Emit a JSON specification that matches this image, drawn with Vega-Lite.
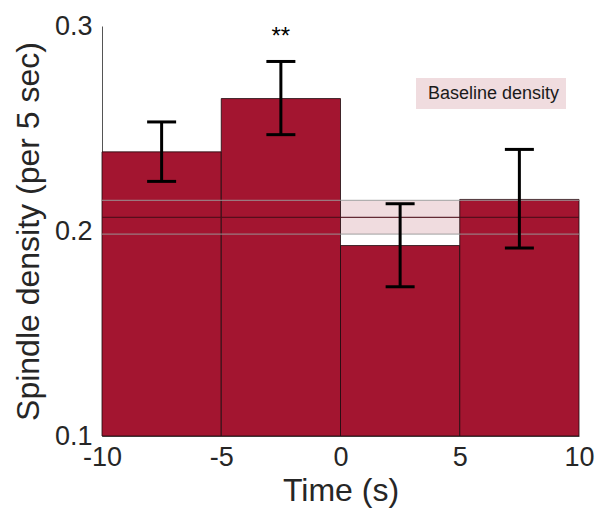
{
  "$schema": "https://vega.github.io/schema/vega-lite/v6.json",
  "width": 477,
  "height": 410,
  "autosize": "none",
  "padding": {"left": 102, "top": 26, "right": 20, "bottom": 72},
  "background": "white",
  "config": {
    "view": {"stroke": null},
    "font": "Liberation Sans",
    "axis": {"labelFont": "Liberation Sans", "titleFont": "Liberation Sans", "labelColor": "#262626", "titleColor": "#262626", "titleFontWeight": "normal", "grid": false, "ticks": false, "domainColor": "#555555", "domainWidth": 1}
  },
  "datasets": {
    "bars": [
      {"start": -10, "end": -5, "mid": -7.5, "density": 0.2386, "lo": 0.2242, "hi": 0.2532, "sig": ""},
      {"start": -5, "end": 0, "mid": -2.5, "density": 0.2646, "lo": 0.2470, "hi": 0.2827, "sig": "**"},
      {"start": 0, "end": 5, "mid": 2.5, "density": 0.1929, "lo": 0.1728, "hi": 0.2133, "sig": ""},
      {"start": 5, "end": 10, "mid": 7.5, "density": 0.2154, "lo": 0.1917, "hi": 0.2398, "sig": ""}
    ],
    "baseline": [
      {"label": "Baseline density", "mean": 0.2066, "lo": 0.1985, "hi": 0.2149}
    ]
  },
  "layer": [
    {
      "data": {"name": "baseline"},
      "mark": {"type": "rect"},
      "encoding": {
        "x": {"datum": -10, "type": "quantitative", "scale": {"domain": [-10, 10], "nice": false, "zero": false},
          "axis": {"title": "Time (s)", "values": [-10, -5, 0, 5, 10], "labelExpr": "datum.value < 0 ? '-' + abs(datum.value) : '' + datum.value", "labelFontSize": 27, "titleFontSize": 32, "labelPadding": 8, "titlePadding": 5, "labelFlush": false}},
        "x2": {"datum": 10},
        "y": {"field": "lo", "type": "quantitative", "scale": {"domain": [0.1, 0.3], "nice": false, "zero": false},
          "axis": {"title": "Spindle density (per 5 sec)", "values": [0.1, 0.2, 0.3], "format": ".1f", "labelFontSize": 27, "titleFontSize": 32, "labelPadding": 10, "titlePadding": 9}},
        "y2": {"field": "hi"},
        "color": {"field": "label", "type": "nominal", "scale": {"range": ["#F0DCDF"]},
          "legend": {"title": null, "orient": "none", "legendX": 314, "legendY": 52, "fillColor": "#F0DCDF", "padding": 6.5, "symbolSize": 1, "symbolOpacity": 0, "symbolStrokeWidth": 0, "labelOffset": -12.5, "labelFontSize": 18, "labelColor": "#1a1a1a", "labelFont": "Liberation Sans"}}
      }
    },
    {
      "data": {"name": "bars"},
      "mark": {"type": "rect", "fill": "#A31530", "stroke": "#1a0a0d", "strokeWidth": 0.8},
      "encoding": {
        "x": {"field": "start", "type": "quantitative"},
        "x2": {"field": "end"},
        "y": {"field": "density", "type": "quantitative"},
        "y2": {"datum": 0.1}
      }
    },
    {
      "data": {"name": "baseline"},
      "mark": {"type": "rule", "color": "#999999", "opacity": 0.75, "strokeWidth": 1.3},
      "encoding": {
        "x": {"datum": -10, "type": "quantitative"},
        "x2": {"datum": 10},
        "y": {"field": "lo", "type": "quantitative"}
      }
    },
    {
      "data": {"name": "baseline"},
      "mark": {"type": "rule", "color": "#999999", "opacity": 0.75, "strokeWidth": 1.3},
      "encoding": {
        "x": {"datum": -10, "type": "quantitative"},
        "x2": {"datum": 10},
        "y": {"field": "hi", "type": "quantitative"}
      }
    },
    {
      "data": {"name": "baseline"},
      "mark": {"type": "rule", "color": "#4a0c18", "opacity": 0.85, "strokeWidth": 1.3},
      "encoding": {
        "x": {"datum": -10, "type": "quantitative"},
        "x2": {"datum": 10},
        "y": {"field": "mean", "type": "quantitative"}
      }
    },
    {
      "data": {"name": "bars"},
      "mark": {"type": "rule", "color": "#000000", "strokeWidth": 3},
      "encoding": {
        "x": {"field": "mid", "type": "quantitative"},
        "y": {"field": "lo", "type": "quantitative"},
        "y2": {"field": "hi"}
      }
    },
    {
      "data": {"name": "bars"},
      "mark": {"type": "tick", "orient": "horizontal", "color": "#000000", "size": 29, "thickness": 3, "opacity": 1},
      "encoding": {
        "x": {"field": "mid", "type": "quantitative"},
        "y": {"field": "lo", "type": "quantitative"}
      }
    },
    {
      "data": {"name": "bars"},
      "mark": {"type": "tick", "orient": "horizontal", "color": "#000000", "size": 29, "thickness": 3, "opacity": 1},
      "encoding": {
        "x": {"field": "mid", "type": "quantitative"},
        "y": {"field": "hi", "type": "quantitative"}
      }
    },
    {
      "data": {"name": "bars"},
      "mark": {"type": "text", "fontSize": 24, "color": "#000000", "baseline": "alphabetic", "align": "center", "dy": -17},
      "encoding": {
        "x": {"field": "mid", "type": "quantitative"},
        "y": {"field": "hi", "type": "quantitative"},
        "text": {"field": "sig"}
      }
    }
  ]
}
